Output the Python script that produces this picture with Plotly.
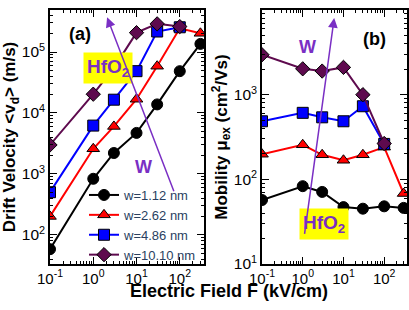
import plotly.graph_objects as go

# ---- data ----
field_kv_cm = [0.1, 1, 3, 10, 30, 100, 300]
labels = ["w=1.12 nm", "w=2.62 nm", "w=4.86 nm", "w=10.10 nm"]

vd_w112 = [58, 830, 2200, 4700, 13800, 48500, 136000]
vd_w262 = [200, 2580, 6000, 16800, 58500, 245000, 203000]
vd_w486 = [500, 6200, 16500, 48500, 217000, 255000]
vd_w1010 = [2980, 20300, 55000, 208000, 290000, 262000]

mu_w112 = [57, 83, 71, 47, 45, 48, 46]
mu_w262 = [198, 256, 195, 168, 195, 240, 68]
mu_w486 = [485, 610, 540, 485, 730, 262]
mu_w1010 = [2960, 2020, 1900, 2100, 1000, 265]

x_tickvals = [0.1, 1, 10, 100]
x_ticktext = ["10<sup>-1</sup>", "10<sup>0</sup>", "10<sup>1</sup>", "10<sup>2</sup>"]
vd_tickvals = [100, 1000, 10000, 100000]
vd_ticktext = ["10<sup>2</sup>", "10<sup>3</sup>", "10<sup>4</sup>", "10<sup>5</sup>"]
mu_tickvals = [10, 100, 1000, 10000]
mu_ticktext = ["10<sup>1</sup>", "10<sup>2</sup>", "10<sup>3</sup>", "10<sup>4</sup>"]

colors = ["#000000", "#ff0000", "#0000ff", "#5e0a4e"]
symbols = ["circle", "triangle-up", "square", "diamond"]
purple = "#7a2fc4"

vd_sets = [vd_w112, vd_w262, vd_w486, vd_w1010]
mu_sets = [mu_w112, mu_w262, mu_w486, mu_w1010]

fig = go.Figure()
for i in range(4):
    n = len(vd_sets[i])
    fig.add_trace(go.Scatter(
        x=field_kv_cm[:n], y=vd_sets[i], mode="lines+markers", name=labels[i],
        line=dict(color=colors[i], width=2),
        marker=dict(symbol=symbols[i], size=11, color=colors[i],
                    line=dict(color="black", width=1)),
        xaxis="x", yaxis="y", showlegend=True))
for i in range(4):
    n = len(mu_sets[i])
    fig.add_trace(go.Scatter(
        x=field_kv_cm[:n], y=mu_sets[i], mode="lines+markers", name=labels[i],
        line=dict(color=colors[i], width=2),
        marker=dict(symbol=symbols[i], size=11, color=colors[i],
                    line=dict(color="black", width=1)),
        xaxis="x2", yaxis="y2", showlegend=False))

common = dict(type="log", showline=True, linecolor="black", linewidth=1.5,
              mirror="ticks", ticks="inside", ticklen=7, tickwidth=1.2,
              tickcolor="black", showgrid=False, zeroline=False, automargin=False,
              tickmode="array",
              minor=dict(dtick="D1", ticks="inside", ticklen=3.5,
                         tickcolor="black", showgrid=False))
xtickfont = dict(family="Liberation Sans, Arial", size=15, color="black")
ytickfont = dict(family="Liberation Sans, Arial", size=15.5, color="black")

ytitlefont = dict(family="Liberation Sans, Arial", size=17, color="black")
xtitlefont = dict(family="Liberation Sans, Arial", size=18, color="black")

fig.update_layout(
    width=409, height=310,
    margin=dict(l=0, r=0, t=0, b=0, autoexpand=False),
    paper_bgcolor="white", plot_bgcolor="white",
    xaxis=dict(common, domain=[50/409, 204/409], range=[-1, 2.56], anchor="y",
               tickvals=x_tickvals, ticktext=x_ticktext, tickfont=xtickfont),
    yaxis=dict(common, domain=[1-264/310, 1-10/310], range=[1.52, 5.69], anchor="x",
               tickvals=vd_tickvals, ticktext=vd_ticktext, tickfont=ytickfont,
               title=dict(text="<b>Drift Velocity &lt;v<sub>d</sub>&gt; (m/s)</b>",
                          font=ytitlefont, standoff=2)),
    xaxis2=dict(common, domain=[262/409, 407/409], range=[-1, 2.56], anchor="y2",
                tickvals=x_tickvals, ticktext=x_ticktext, tickfont=xtickfont),
    yaxis2=dict(common, domain=[1-264/310, 1-10/310], range=[1, 4], anchor="x2",
                tickvals=mu_tickvals, ticktext=mu_ticktext, tickfont=ytickfont,
                title=dict(text="<b>Mobility \u03bc<sub>ex</sub> (cm<sup>2</sup>/Vs)</b>",
                           font=ytitlefont, standoff=2)),
    legend=dict(x=84/409, y=1-180/310, xanchor="left", yanchor="top",
                bgcolor="rgba(0,0,0,0)", font=dict(family="Liberation Sans, Arial", size=13),
                tracegroupgap=0, itemwidth=30),
    showlegend=True,
)

ann = []
ann.append(dict(text="<b>Electric Field F (kV/cm)</b>", x=229/409, y=1-302.5/310, xref="paper",
                yref="paper", showarrow=False, font=xtitlefont))
ann.append(dict(text="<b>(a)</b>", x=67/409, y=1-22/310, xref="paper", yref="paper",
                showarrow=False, font=dict(family="Liberation Sans, Arial", size=18, color="black")))
ann.append(dict(text="<b>(b)</b>", x=388/409, y=1-27/310, xref="paper", yref="paper",
                showarrow=False, font=dict(family="Liberation Sans, Arial", size=18, color="black")))
for (cx, cy) in [(82.5, 52.5), (348.5, 240)]:
    ann.append(dict(text="<b>HfO<sub>2</sub></b>", x=cx/409, y=1-cy/310, xref="paper",
                    yref="paper", showarrow=False, bgcolor="#ffff00", borderpad=3,
                    font=dict(family="Liberation Sans, Arial", size=19, color=purple)))
for (cx, cy) in [(143, 167), (318, 35)]:
    ann.append(dict(text="<b>W</b>", x=cx/409, y=1-cy/310, xref="paper", yref="paper",
                    showarrow=False, font=dict(family="Liberation Sans, Arial", size=18, color=purple)))
# arrows (log-unit coords)
ann.append(dict(x=0.32, y=5.57, ax=1.877, ay=2.69, xref="x", yref="y", axref="x", ayref="y",
                text="", showarrow=True, arrowhead=2, arrowsize=1.3, arrowwidth=1.5,
                arrowcolor=purple, standoff=0))
ann.append(dict(x=0.773, y=3.906, ax=0.04, ay=1.337, xref="x2", yref="y2", axref="x2", ayref="y2",
                text="", showarrow=True, arrowhead=2, arrowsize=1.3, arrowwidth=1.5,
                arrowcolor=purple, standoff=0))
fig.update_layout(annotations=ann)

fig.write_html("out.html", config={"displayModeBar": False},
               post_script="document.body.style.margin='0';")
